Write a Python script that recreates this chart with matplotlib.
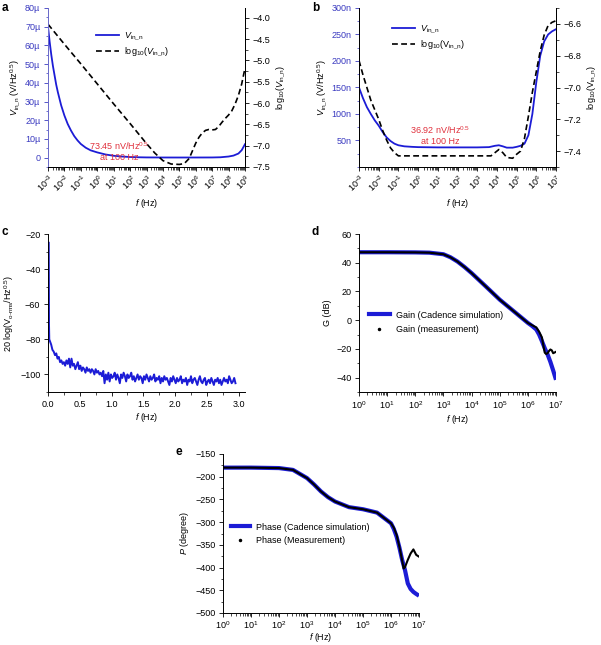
import numpy as np
import matplotlib
matplotlib.use("Agg")
import matplotlib.pyplot as plt
from matplotlib.lines import Line2D
from matplotlib.ticker import LogLocator, MultipleLocator, FuncFormatter, NullFormatter

plt.rcParams['font.family'] = ['Liberation Sans', 'DejaVu Sans']
plt.rcParams['mathtext.fontset'] = 'custom'
plt.rcParams['mathtext.rm'] = 'Liberation Sans'
plt.rcParams['mathtext.it'] = 'Liberation Sans:italic'
plt.rcParams['mathtext.bf'] = 'Liberation Sans:bold'
plt.rcParams['font.size'] = 6.5
plt.rcParams['axes.linewidth'] = 0.7
plt.rcParams['xtick.major.width'] = 0.6
plt.rcParams['ytick.major.width'] = 0.6
plt.rcParams['xtick.minor.width'] = 0.5
plt.rcParams['ytick.minor.width'] = 0.5
plt.rcParams['xtick.major.size'] = 3
plt.rcParams['ytick.major.size'] = 3
plt.rcParams['xtick.minor.size'] = 1.8
plt.rcParams['ytick.minor.size'] = 1.8
plt.rcParams['xtick.major.pad'] = 2.5
plt.rcParams['ytick.major.pad'] = 2.5

BLUE = '#1c1cd6'
TBLUE = '#3a3ac0'
RED = '#e0303c'

# ---------------- Panel a data ----------------
a_blue_logf = [-3, -2.9, -2.8, -2.7, -2.6, -2.5, -2.4, -2.2, -2.0, -1.8, -1.6, -1.4, -1.2, -1.0,
               -0.7, -0.4, 0, 0.5, 1, 1.5, 2, 2.5, 3, 4, 5, 6, 7, 7.5, 8, 8.3, 8.6, 8.8, 9]
a_blue_uV = [70, 62, 55, 49, 44, 39, 35, 28, 22.5, 18, 14.5, 11.5, 9.2, 7.3,
             5.3, 3.9, 2.8, 1.7, 1.0, 0.6, 0.35, 0.2, 0.12, 0.08, 0.07, 0.08, 0.1, 0.2, 0.6, 1.1, 2.2, 4.0, 7.2]
a_dash_logf = [-3, -2, -1, 0, 1, 2, 3, 3.5, 4, 4.5, 5, 5.3, 5.6, 5.8, 6.0, 6.2, 6.4, 6.6, 6.8, 7.0,
               7.2, 7.4, 7.6, 7.8, 8.0, 8.2, 8.4, 8.6, 8.8, 9.0]
a_dash_log = [-4.15, -4.62, -5.08, -5.55, -6.02, -6.48, -6.95, -7.17, -7.35, -7.43, -7.44, -7.42,
              -7.30, -7.12, -6.94, -6.80, -6.70, -6.64, -6.62, -6.63, -6.62, -6.55, -6.45, -6.36,
              -6.28, -6.18, -6.02, -5.82, -5.55, -5.18]

# ---------------- Panel b data ----------------
b_blue_logf = [-3, -2.8, -2.6, -2.4, -2.2, -2.0, -1.8, -1.6, -1.4, -1.2, -1.0, -0.7, -0.3, 0, 1, 2, 3,
               3.6, 3.9, 4.1, 4.3, 4.5, 4.8, 5.0, 5.2, 5.4, 5.6, 5.8, 6.0, 6.2, 6.4, 6.6, 6.8, 7.0]
b_blue_nV = [150, 130, 113, 100, 88, 78, 66, 56, 49, 44, 41, 39, 38, 37.5, 37, 37, 37,
             37.5, 40, 41, 39, 36.5, 36.5, 38, 40, 44, 60, 100, 160, 210, 237, 250, 256, 260]
b_dash_logf = [-3, -2.8, -2.6, -2.4, -2.2, -2.0, -1.8, -1.6, -1.4, -1.2, -1.0, -0.5, 0, 1, 2, 3, 3.7,
               3.9, 4.1, 4.3, 4.5, 4.8, 5.0, 5.2, 5.4, 5.6, 5.8, 6.0, 6.2, 6.4, 6.6, 6.8, 7.0]
b_dash_log = [-6.83, -6.92, -7.0, -7.08, -7.14, -7.2, -7.27, -7.33, -7.38, -7.41, -7.43, -7.43,
              -7.43, -7.43, -7.43, -7.43, -7.43, -7.41, -7.39, -7.41, -7.44, -7.445, -7.42,
              -7.40, -7.32, -7.18, -7.03, -6.90, -6.77, -6.67, -6.61, -6.59, -6.58]

# ---------------- Panel c data ----------------
c_spike_f = [0.012, 0.014, 0.016, 0.020]
c_spike_db = [-25, -50, -72, -80]
c_f_step = 0.02
c_db = [-81, -83, -86, -87, -89, -88, -91, -90, -93, -92, -94, -93, -95, -92, -94, -91, -96, -91,
        -95, -94, -97, -95, -93, -97, -95, -98, -96, -97, -99, -96, -98, -97, -99, -97, -98, -100,
        -97, -99, -98, -100, -99, -101, -98, -105, -100, -103, -99, -104, -100, -102, -101, -99,
        -103, -100, -102, -105, -100, -102, -99, -101, -104, -100, -102, -101, -99, -103, -101,
        -104, -102, -100, -103, -101, -102, -105, -101, -103, -100, -102, -104, -101, -103, -102,
        -100, -104, -102, -103, -101, -105, -102, -104, -101, -103, -102, -104, -106, -102, -104,
        -101, -103, -105, -102, -104, -103, -101, -105, -103, -104, -102, -106, -103, -104, -101,
        -105, -103, -102, -104, -106, -103, -101, -104, -105, -103, -102, -106, -104, -103, -105,
        -102, -104, -106, -103, -104, -102, -105, -103, -106, -104, -102, -104, -103, -105, -101,
        -103, -105, -104, -102, -105]

# ---------------- Panel d data ----------------
d_sim_logf = [0, 1, 2, 2.5, 3, 3.25, 3.5, 3.75, 4, 4.5, 5, 5.5, 6, 6.15, 6.3, 6.4, 6.5, 6.6, 6.7, 6.8, 6.9, 7.0]
d_sim_db = [47.3, 47.3, 47.2, 47.0, 45.9, 43.8, 40.8, 37.0, 32.8, 23.6, 14.3, 6.2, -1.9, -4.0, -6.5,
            -10.0, -14.6, -19.5, -23.8, -29.0, -35.0, -41.5]
d_meas_logf = [0, 1, 2, 2.5, 3, 3.25, 3.5, 3.75, 4, 4.5, 5, 5.5, 6, 6.15, 6.3, 6.4, 6.5, 6.55, 6.6,
               6.65, 6.7, 6.75, 6.8, 6.85, 6.9, 6.95, 7.0]
d_meas_db = [47.3, 47.3, 47.2, 47.0, 45.9, 43.8, 40.8, 37.0, 32.8, 23.6, 14.3, 6.2, -1.9, -3.5, -5.0,
             -8.0, -12.0, -17.5, -22.6, -23.5, -23.0, -21.5, -20.4, -21.0, -23.0, -22.5, -22.0]

# ---------------- Panel e data ----------------
e_sim_logf = [0, 1, 2, 2.5, 3, 3.25, 3.5, 3.75, 4, 4.5, 5, 5.5, 6, 6.1, 6.2, 6.3, 6.4, 6.5, 6.6, 6.7, 6.8, 6.9, 7.0]
e_sim_deg = [-180, -180, -181, -185, -203, -217, -232.5, -245, -254.6, -267, -271.6, -279, -302.5,
             -315, -332, -356, -383.6, -405.7, -435, -447, -453.6, -458, -462]
e_meas_logf = [0, 1, 2, 2.5, 3, 3.25, 3.5, 3.75, 4, 4.5, 5, 5.5, 6, 6.1, 6.2, 6.3, 6.4, 6.45, 6.5,
               6.55, 6.6, 6.7, 6.8, 6.85, 6.9, 7.0]
e_meas_deg = [-180, -180, -181, -185, -203, -217, -232.5, -245, -254.6, -267, -271.6, -279, -302.5,
              -312, -328, -354, -385, -402, -399, -391, -383, -369, -360, -366, -372, -376]

fig = plt.figure(figsize=(6.01, 6.45), dpi=100)
W, H = 601.0, 645.0


def rect(l, r, t, b):
    return [l / W, 1 - b / H, (r - l) / W, (b - t) / H]


def ftext(x, y, s, **kw):
    fig.text(x / W, 1 - y / H, s, **kw)


def pow_fmt(v, pos):
    e = int(round(np.log10(v)))
    return r'$10^{%d}$' % e


def minus(fmt):
    return FuncFormatter(lambda v, p: (fmt % v).replace('-', '\u2212'))


def setup_log_x(ax, lo, hi):
    ax.set_xscale('log')
    ax.set_xlim(10.0 ** lo, 10.0 ** hi)
    ax.xaxis.set_major_locator(LogLocator(base=10, numticks=30))
    ax.xaxis.set_minor_locator(LogLocator(base=10, subs=np.arange(2, 10), numticks=300))
    ax.xaxis.set_minor_formatter(NullFormatter())
    ax.xaxis.set_major_formatter(FuncFormatter(pow_fmt))


def micro(v, pos):
    if abs(v) < 1e-12:
        return '0'
    return '%d\u00b5' % round(v * 1e6)


def nano(v, pos):
    return '%dn' % round(v * 1e9)

DASH = (0, (3.5, 2))

# ---------------- Panel a ----------------
axa = fig.add_axes(rect(48, 245, 8, 167))
axa2 = axa.twinx()
axa.plot([10.0 ** e for e in a_blue_logf], [v * 1e-6 for v in a_blue_uV], color=BLUE, lw=1.3, zorder=3)
axa2.plot([10.0 ** e for e in a_dash_logf], a_dash_log, color='black', lw=1.2, ls=DASH)
setup_log_x(axa, -3, 9)
axa.set_ylim(-5e-6, 80e-6)
axa.yaxis.set_major_locator(MultipleLocator(10e-6))
axa.yaxis.set_minor_locator(MultipleLocator(5e-6))
axa.yaxis.set_major_formatter(FuncFormatter(micro))
axa.tick_params(axis='y', colors=TBLUE, which='both')
axa2.set_ylim(-7.5, -3.77)
axa2.yaxis.set_major_locator(MultipleLocator(0.5))
axa2.yaxis.set_minor_locator(MultipleLocator(0.25))
axa2.yaxis.set_major_formatter(minus('%.1f'))
axa2.spines['left'].set_color('#7070d0')
for ax in (axa, axa2):
    ax.spines['top'].set_visible(False)
plt.setp(axa.get_xticklabels(), rotation=45, ha='right', rotation_mode='anchor')
axa.tick_params(axis='x', pad=1)
axa.set_xlabel(r'$f$ (Hz)', labelpad=2)
axa.set_ylabel(r'$V_{\rm in\_n}$ (V/Hz$^{0.5}$)', labelpad=2)
axa2.set_ylabel(r'log$_{10}$($V_{\rm in\_n}$)', labelpad=3)
ftext(119, 146, '73.45 nV/Hz$^{0.5}$', color=RED, ha='center', va='center', zorder=5)
ftext(119, 158, 'at 100 Hz', color=RED, ha='center', va='center', zorder=5)
hA = [Line2D([], [], color=BLUE, lw=1.3), Line2D([], [], color='black', lw=1.2, ls=DASH)]
fig.legend(hA, [r'$V_{\rm in\_n}$', r'log$_{10}$($V_{\rm in\_n}$)'], loc='upper left',
           bbox_to_anchor=(91 / W, 1 - 26 / H), frameon=False, handlelength=2.6,
           handletextpad=0.6, labelspacing=0.45, borderpad=0)

# ---------------- Panel b ----------------
axb = fig.add_axes(rect(359, 556, 8, 167))
axb2 = axb.twinx()
axb.plot([10.0 ** e for e in b_blue_logf], [v * 1e-9 for v in b_blue_nV], color=BLUE, lw=1.3, zorder=3)
axb2.plot([10.0 ** e for e in b_dash_logf], b_dash_log, color='black', lw=1.2, ls=DASH)
setup_log_x(axb, -3, 7)
axb.set_ylim(0, 300e-9)
axb.set_yticks([50e-9, 100e-9, 150e-9, 200e-9, 250e-9, 300e-9])
axb.yaxis.set_minor_locator(MultipleLocator(25e-9))
axb.yaxis.set_major_formatter(FuncFormatter(nano))
axb.tick_params(axis='y', colors=TBLUE, which='both')
axb2.set_ylim(-7.5, -6.5)
axb2.set_yticks([-7.4, -7.2, -7.0, -6.8, -6.6])
axb2.yaxis.set_minor_locator(MultipleLocator(0.1))
axb2.yaxis.set_major_formatter(minus('%.1f'))
for ax in (axb, axb2):
    ax.spines['top'].set_visible(False)
plt.setp(axb.get_xticklabels(), rotation=45, ha='right', rotation_mode='anchor')
axb.tick_params(axis='x', pad=1)
axb.set_xlabel(r'$f$ (Hz)', labelpad=2)
axb.set_ylabel(r'$V_{\rm in\_n}$ (V/Hz$^{0.5}$)', labelpad=2)
axb2.set_ylabel(r'log$_{10}$(V$_{\rm in\_n}$)', labelpad=3)
ftext(440, 130, '36.92 nV/Hz$^{0.5}$', color=RED, ha='center', va='center')
ftext(440, 142, 'at 100 Hz', color=RED, ha='center', va='center')
hB = [Line2D([], [], color=BLUE, lw=1.3), Line2D([], [], color='black', lw=1.2, ls=DASH)]
fig.legend(hB, [r'$V_{\rm in\_n}$', r'log$_{10}$(V$_{\rm in\_n}$)'], loc='upper left',
           bbox_to_anchor=(387 / W, 1 - 19 / H), frameon=False, handlelength=2.6,
           handletextpad=0.6, labelspacing=0.45, borderpad=0)

# ---------------- Panel c ----------------
axc = fig.add_axes(rect(48, 245, 234, 392))
cf = list(c_spike_f) + [0.01 + c_f_step * (i + 1) for i in range(len(c_db))]
cy = list(c_spike_db) + list(c_db)
axc.plot(cf, cy, color=BLUE, lw=1.4)
axc.set_xlim(0, 3.1)
axc.set_ylim(-110, -20)
axc.xaxis.set_major_locator(MultipleLocator(0.5))
axc.xaxis.set_minor_locator(MultipleLocator(0.25))
axc.set_yticks([-100, -80, -60, -40, -20])
axc.yaxis.set_minor_locator(MultipleLocator(10))
axc.xaxis.set_major_formatter(FuncFormatter(lambda v, p: '%.1f' % v))
axc.yaxis.set_major_formatter(minus('%d'))
for s in ('top', 'right'):
    axc.spines[s].set_visible(False)
axc.set_xlabel(r'$f$ (Hz)', labelpad=2)
axc.set_ylabel(r'20 log(V$_{\rm o\text{-}rms}$/Hz$^{0.5}$)', labelpad=3)

# ---------------- Panel d ----------------
axd = fig.add_axes(rect(359, 556, 234, 392))
axd.plot([10.0 ** e for e in d_sim_logf], d_sim_db, color=BLUE, lw=3.0, solid_capstyle='butt')
axd.plot([10.0 ** e for e in d_meas_logf], d_meas_db, color='black', lw=1.5)
setup_log_x(axd, 0, 7)
axd.set_ylim(-50, 60)
axd.set_yticks([-40, -20, 0, 20, 40, 60])
axd.yaxis.set_minor_locator(MultipleLocator(10))
axd.yaxis.set_major_formatter(minus('%d'))
for s in ('top', 'right'):
    axd.spines[s].set_visible(False)
axd.set_xlabel(r'$f$ (Hz)', labelpad=1)
axd.set_ylabel('G (dB)', labelpad=3)
hD = [Line2D([], [], color=BLUE, lw=3.0), Line2D([], [], color='black', marker='.', ms=3, ls='none')]
fig.legend(hD, ['Gain (Cadence simulation)', 'Gain (measurement)'], loc='upper left',
           bbox_to_anchor=(364 / W, 1 - 306 / H), frameon=False, handlelength=2.4,
           handletextpad=0.6, labelspacing=0.6, borderpad=0)

# ---------------- Panel e ----------------
axe = fig.add_axes(rect(223, 419, 454, 613))
axe.plot([10.0 ** e for e in e_sim_logf], e_sim_deg, color=BLUE, lw=3.0, solid_capstyle='butt')
axe.plot([10.0 ** e for e in e_meas_logf], e_meas_deg, color='black', lw=1.5)
setup_log_x(axe, 0, 7)
axe.set_ylim(-500, -150)
axe.yaxis.set_major_locator(MultipleLocator(50))
axe.yaxis.set_minor_locator(MultipleLocator(25))
axe.yaxis.set_major_formatter(minus('%d'))
for s in ('top', 'right'):
    axe.spines[s].set_visible(False)
axe.tick_params(axis='x', pad=1.5)
axe.set_xlabel(r'$f$ (Hz)', labelpad=0)
axe.set_ylabel(r'$P$ (degree)', labelpad=3)
hE = [Line2D([], [], color=BLUE, lw=3.0), Line2D([], [], color='black', marker='.', ms=3, ls='none')]
fig.legend(hE, ['Phase (Cadence simulation)', 'Phase (Measurement)'], loc='upper left',
           bbox_to_anchor=(226 / W, 1 - 518 / H), frameon=False, handlelength=2.2,
           handletextpad=0.6, labelspacing=0.5, borderpad=0)

# panel letters
for lab, x, y in [('a', 2, 8), ('b', 312, 8), ('c', 2, 232), ('d', 312, 232), ('e', 176, 452)]:
    ftext(x, y, lab, fontsize=8.5, fontweight='bold', ha='left', va='center')

fig.savefig('out.png', dpi=100)
